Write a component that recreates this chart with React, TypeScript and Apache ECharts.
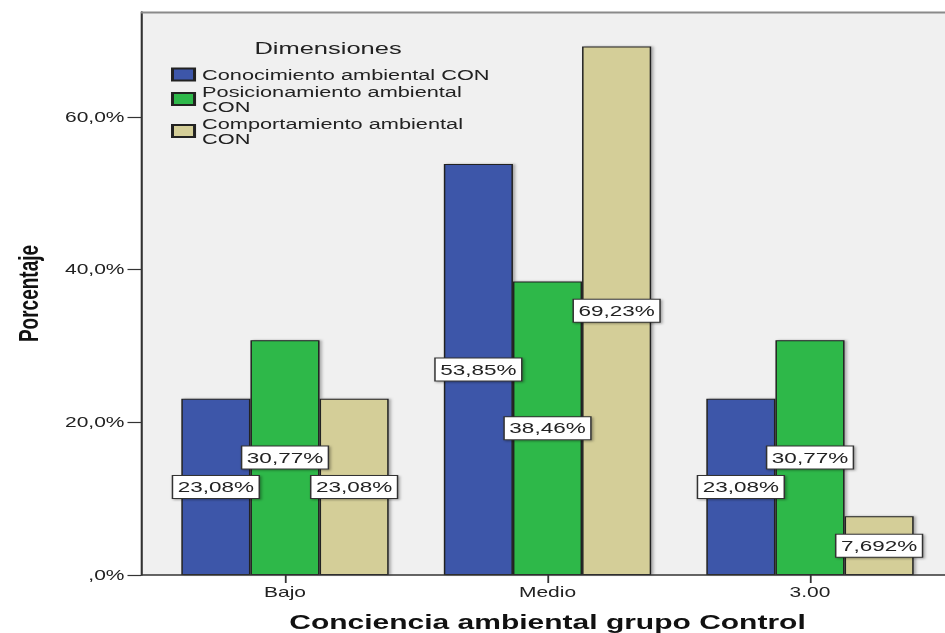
import React, { useEffect, useRef } from "react";
import * as echarts from "echarts";

const categories = ["Bajo", "Medio", "3.00"];
const seriesNames = [
  "Conocimiento ambiental CON",
  "Posicionamiento ambiental\nCON",
  "Comportamiento ambiental\nCON",
];
const conocimiento = [23.08, 53.85, 23.08];
const posicionamiento = [30.77, 38.46, 30.77];
const comportamiento = [23.08, 69.23, 7.692];
const colors = ["#3d56a9", "#2eb84a", "#d4ce98"];
const yTicks = [0, 20, 40, 60];

const FONT = "'Liberation Sans', Arial, sans-serif";

export default function App() {
  const ref = useRef<HTMLDivElement>(null);
  useEffect(() => {
    if (!ref.current) return;
    const chart = echarts.init(ref.current, undefined, { renderer: "svg" });
    const values = [conocimiento, posicionamiento, comportamiento];
    const fmtY = (v: number) => {
      if (!yTicks.includes(Math.round(v * 1000) / 1000)) return "";
      if (v === 0) return ",0%";
      return v.toFixed(1).replace(".", ",") + "%";
    };
    chart.setOption({
      animation: false,
      backgroundColor: "#ffffff",
      textStyle: { fontFamily: FONT },
      graphic: [
        {
          type: "rect",
          z: -100,
          shape: { x: 94, y: 12, width: 540, height: 563 },
          style: { fill: "#f0f0f0" },
        },
        {
          type: "line",
          z: 100,
          shape: { x1: 94, y1: 12.5, x2: 634, y2: 12.5 },
          style: { stroke: "#8a8a8a", lineWidth: 2 },
        },
        {
          type: "line",
          z: 100,
          shape: { x1: 94, y1: 575, x2: 634, y2: 575 },
          style: { stroke: "#333333", lineWidth: 1.4 },
        },
        {
          type: "text",
          z: 100,
          x: 218.7,
          y: 48,
          style: {
            text: "Dimensiones",
            fontSize: 17,
            fontFamily: FONT,
            fill: "#222222",
            align: "center",
            verticalAlign: "middle",
          },
        },
      ],
      legend: {
        orient: "vertical",
        left: 114,
        top: 67,
        padding: 0,
        itemGap: 2,
        itemWidth: 14.7,
        itemHeight: 12,
        icon: "rect",
        textStyle: {
          fontSize: 14.5,
          lineHeight: 15,
          color: "#222222",
          fontFamily: FONT,
        },
        data: seriesNames,
      },
      grid: {
        left: 102.5,
        right: 2.5,
        top: 12,
        bottom: 58,
        containLabel: false,
        outerBoundsMode: "none",
      },
      xAxis: {
        type: "category",
        data: categories,
        name: "Conciencia ambiental grupo Control",
        nameLocation: "middle",
        nameGap: 37,
        nameTextStyle: {
          fontSize: 20,
          fontWeight: "bold",
          color: "#111111",
          fontFamily: FONT,
        },
        axisLine: { show: false },
        axisTick: {
          show: true,
          alignWithLabel: true,
          length: 8,
          lineStyle: { color: "#333333", width: 1.2 },
        },
        axisLabel: {
          fontSize: 14,
          color: "#222222",
          margin: 10,
          fontFamily: FONT,
        },
      },
      yAxis: {
        type: "value",
        min: 0,
        max: 73.76,
        interval: 20,
        offset: 8.5,
        name: "Porcentaje",
        nameLocation: "middle",
        nameGap: 66,
        nameTextStyle: {
          fontSize: 19,
          fontWeight: "bold",
          color: "#111111",
          fontFamily: FONT,
        },
        axisLine: { show: true, lineStyle: { color: "#333333", width: 1.4 } },
        axisTick: {
          show: true,
          length: 9,
          lineStyle: { color: "#333333", width: 1.2 },
        },
        splitLine: { show: false },
        axisLabel: {
          fontSize: 14,
          color: "#222222",
          margin: 11,
          fontFamily: FONT,
          formatter: fmtY,
          showMaxLabel: false,
        },
      },
      series: seriesNames.map((name, i) => ({
        name,
        type: "bar",
        data: values[i],
        barGap: "0%",
        barCategoryGap: "21%",
        itemStyle: {
          color: colors[i],
          borderColor: "#222222",
          borderWidth: 1,
          shadowColor: "rgba(0,0,0,0.3)",
          shadowBlur: 2,
          shadowOffsetX: 1.5,
        },
        label: {
          show: true,
          position: "inside",
          formatter: (p: any) =>
            Number(p.value).toPrecision(4).replace(".", ",") + "%",
          fontSize: 15,
          fontFamily: FONT,
          color: "#222222",
          backgroundColor: "#ffffff",
          borderColor: "#333333",
          borderWidth: 1,
          padding: [4, 3, 3, 3],
          shadowColor: "rgba(0,0,0,0.35)",
          shadowBlur: 2,
          shadowOffsetX: 1,
          shadowOffsetY: 1,
          textShadowColor: "transparent",
        },
      })),
    });
    return () => chart.dispose();
  }, []);
  return (
    <div
      ref={ref}
      style={{
        position: "fixed",
        left: 0,
        top: 0,
        width: 630,
        height: 633,
        transform: "scaleX(1.5)",
        transformOrigin: "0 0",
      }}
    />
  );
}
